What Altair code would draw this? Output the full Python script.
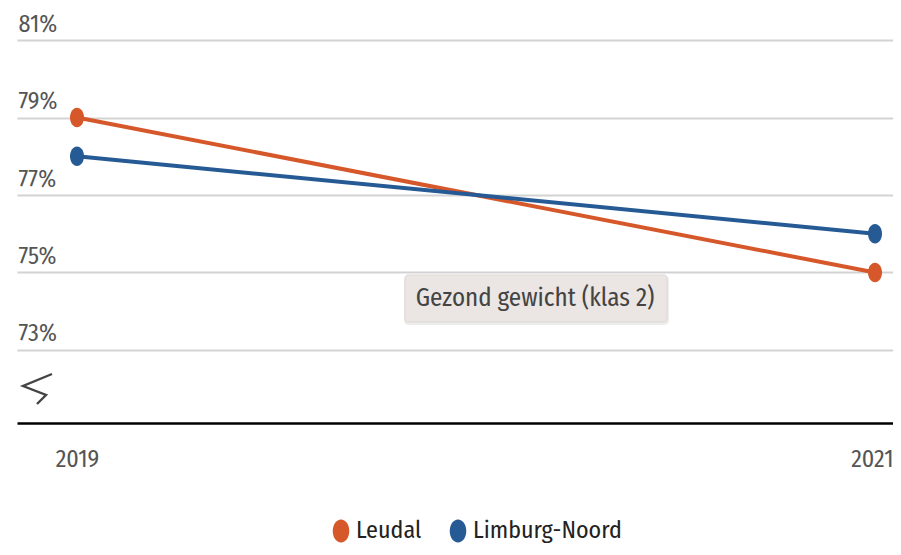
import altair as alt
import pandas as pd

years = [2019, 2021]
regions = ["Leudal", "Limburg-Noord"]
leudal = [79, 75]
limburg_noord = [78, 76]
y_ticks = [73, 75, 77, 79, 81]
tooltip_label = "Gezond gewicht (klas 2)"

colors = ["#D6582A", "#265A94"]
FONT = "'Fira Sans Condensed', 'Roboto Condensed', sans-serif"
ELLIPSE = "M-0.72,0 A0.72,1 0 1,0 0.72,0 A0.72,1 0 1,0 -0.72,0 Z"
ZIGZAG = "M1,-1 L-0.93,-0.2 L0.6,0.4 L0,1"

rows = []
for name, vals in zip(regions, [leudal, limburg_noord]):
    for yr, v in zip(years, vals):
        rows.append({"jaar": yr, "waarde": v, "regio": name})
df = pd.DataFrame(rows)

last_year = f"datum.value == {years[-1]}"
x = alt.X("jaar:Q",
          scale=alt.Scale(domain=[2018.8496, 2021.0451], nice=False, zero=False),
          axis=alt.Axis(values=years, format="d", title=None, grid=False, ticks=False,
                        domainColor="#000000", domainWidth=2.5, labelPadding=24,
                        labelAlign={"condition": {"test": last_year, "value": "right"}, "value": "center"},
                        labelOffset={"condition": {"test": last_year, "value": 18}, "value": 0},
                        labelFontSize=24, labelColor="#555555", labelFont=FONT))
y = alt.Y("waarde:Q",
          scale=alt.Scale(domain=[71.116, 81.826], nice=False, zero=False),
          axis=alt.Axis(values=y_ticks, title=None, domain=False, ticks=False, tickSize=0,
                        labelExpr="datum.value + '%'", labelAlign="left",
                        labelBaseline="alphabetic", labelPadding=-1, labelOffset=-9,
                        labelFontSize=24, labelColor="#555555", labelFont=FONT,
                        gridColor="#d3d3d3", gridWidth=2))
color = alt.Color("regio:N", scale=alt.Scale(domain=regions, range=colors),
                  legend=alt.Legend(title=None, orient="none", direction="horizontal",
                                    legendX=312, legendY=511, padding=0,
                                    symbolType=ELLIPSE, symbolSize=529,
                                    symbolStrokeWidth=0, labelFontSize=24,
                                    labelFont=FONT, labelColor="#222222", labelLimit=400,
                                    labelOffset=3, columnPadding=24))

base = alt.Chart(df)
lines = base.mark_line(strokeWidth=4).encode(x=x, y=y, color=color)
points = base.mark_point(shape=ELLIPSE, size=380, filled=True, opacity=1).encode(
    x=x, y=y, color=alt.Color("regio:N", scale=alt.Scale(domain=regions, range=colors), legend=None))

one = alt.Data(values=[{"t": tooltip_label}])
zig = alt.Chart(one).mark_point(shape=ZIGZAG, size=900, filled=False, strokeWidth=2.4,
                                color="#444444", opacity=1).encode(
    x=alt.value(20), y=alt.value(381))
shadow = alt.Chart(one).mark_rect(cornerRadius=4, color="#000000", opacity=0.07).encode(
    x=alt.value(387), x2=alt.value(652), y=alt.value(268), y2=alt.value(317))
box = alt.Chart(one).mark_rect(cornerRadius=3, fill="#EBE6E3", stroke="#dcd7d4",
                               strokeWidth=1).encode(
    x=alt.value(388), x2=alt.value(650), y=alt.value(267), y2=alt.value(314))
tip = alt.Chart(one).mark_text(font=FONT, fontSize=25, color="#444444",
                               align="center", baseline="middle").encode(
    x=alt.value(518), y=alt.value(290), text="t:N")

chart = alt.layer(lines, points, zig, shadow, box, tip).properties(
    width=876, height=415,
    autosize=alt.AutoSizeParams(type="none"),
    padding={"left": 9, "top": 0, "right": 0, "bottom": 120},
).configure(font=FONT).configure_view(stroke=None)

chart.save("out.html", embed_options={"renderer": "svg", "actions": False})
